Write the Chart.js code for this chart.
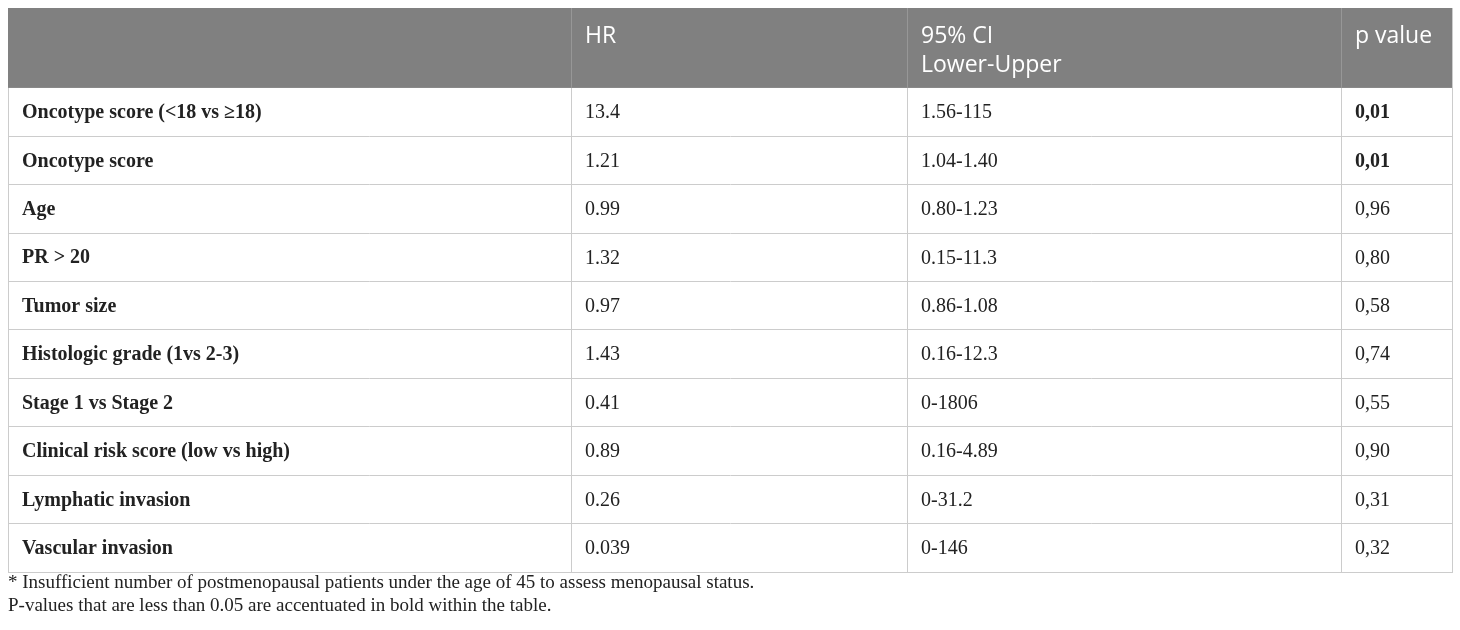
<!DOCTYPE html>
<html>
<head>
<meta charset="utf-8">
<title>Hazard ratios</title>
<script src="https://cdn.jsdelivr.net/npm/chart.js@4.4.1/dist/chart.umd.min.js"></script>
<style>
  html, body { margin: 0; padding: 0; background: #fff; }
  #wrap { width: 1460px; height: 630px; position: relative; }
</style>
</head>
<body>
<div id="wrap"><canvas id="tableChart"></canvas></div>
<script>
// --- Table content ---
const headerLabels = ["", "HR", ["95% CI", "Lower-Upper"], "p value"];
const variables = [
    "Oncotype score (<18 vs \u226518)",
    "Oncotype score",
    "Age",
    "PR > 20",
    "Tumor size",
    "Histologic grade (1vs 2-3)",
    "Stage 1 vs Stage 2",
    "Clinical risk score (low vs high)",
    "Lymphatic invasion",
    "Vascular invasion",
];
const hrValues = ["13.4", "1.21", "0.99", "1.32", "0.97", "1.43", "0.41", "0.89", "0.26", "0.039"];
const ciRanges = ["1.56-115", "1.04-1.40", "0.80-1.23", "0.15-11.3", "0.86-1.08", "0.16-12.3", "0-1806", "0.16-4.89", "0-31.2", "0-146"];
const pValues = ["0,01", "0,01", "0,96", "0,80", "0,58", "0,74", "0,55", "0,90", "0,31", "0,32"];
const footnotes = [
    "* Insufficient number of postmenopausal patients under the age of 45 to assess menopausal status.",
    "P-values that are less than 0.05 are accentuated in bold within the table.",
];

// --- Layout (column edges in table units, header height in row units) ---
const COL_EDGES = [0, 563, 899, 1333, 1444];
const HEADER_H = 1.65;
const ROW_EDGES = [-HEADER_H].concat(variables.map((v, i) => i), [variables.length]);

const SERIF = "'Liberation Serif', 'DejaVu Serif', serif";
const SANS = "'Open Sans', 'Noto Sans', sans-serif";
const CELL_PAD = 14;

function isSignificant(p) {
    return parseFloat(p.replace(",", ".")) < 0.05;
}

// draws header band and every cell text at positions given by the scales
const tablePlugin = {
    id: "tableCells",
    beforeDatasetsDraw(chart) {
        const { ctx, scales } = chart;
        const x = scales.x, y = scales.y;
        const top = y.getPixelForValue(-HEADER_H);
        const bottom = y.getPixelForValue(0);
        ctx.save();
        ctx.fillStyle = "#808080";
        ctx.fillRect(x.left, top, x.right - x.left, bottom - top);
        // separators inside the header
        ctx.strokeStyle = "#979797";
        ctx.lineWidth = 1;
        COL_EDGES.slice(1, -1).forEach((e) => {
            const px = Math.round(x.getPixelForValue(e)) + 0.5;
            ctx.beginPath();
            ctx.moveTo(px, top);
            ctx.lineTo(px, bottom);
            ctx.stroke();
        });
        ctx.restore();
    },
    afterDatasetsDraw(chart) {
        const { ctx, scales } = chart;
        const x = scales.x, y = scales.y;
        ctx.save();
        ctx.textAlign = "left";

        // header
        const headTop = y.getPixelForValue(-HEADER_H);
        ctx.textBaseline = "alphabetic";
        ctx.fillStyle = "#ffffff";
        ctx.font = "23px " + SANS;
        headerLabels.forEach((lab, c) => {
            const lines = Array.isArray(lab) ? lab : [lab];
            const px = x.getPixelForValue(COL_EDGES[c]) + CELL_PAD;
            lines.forEach((ln, k) => {
                ctx.fillText(ln, px, headTop + 35 + k * 29);
            });
        });

        // body
        const columns = [variables, hrValues, ciRanges, pValues];
        ctx.textBaseline = "middle";
        ctx.fillStyle = "#222222";
        variables.forEach((v, r) => {
            const py = y.getPixelForValue(r + 0.5) + 1;
            columns.forEach((col, c) => {
                const bold = c === 0 || (c === 3 && isSignificant(pValues[r]));
                ctx.font = (bold ? "bold " : "") + "20px " + SERIF;
                const px = x.getPixelForValue(COL_EDGES[c]) + CELL_PAD;
                ctx.fillText(col[r], px, py);
            });
        });
        ctx.restore();
    },
};

const gridStyle = {
    color: "#cccccc",
    lineWidth: 1,
    drawTicks: false,
};

new Chart(document.getElementById("tableChart"), {
    type: "scatter",
    data: { datasets: [] },
    options: {
        responsive: true,
        maintainAspectRatio: false,
        animation: false,
        events: [],
        layout: { padding: { left: 8, right: 8, top: 8, bottom: 12 } },
        plugins: {
            legend: { display: false },
            tooltip: { enabled: false },
            title: {
                display: true,
                position: "bottom",
                align: "start",
                text: footnotes,
                color: "#222222",
                font: { family: SERIF, size: 19, weight: "normal", lineHeight: "23px" },
                padding: { top: 0, bottom: 0 },
            },
        },
        scales: {
            x: {
                type: "linear",
                min: COL_EDGES[0],
                max: COL_EDGES[COL_EDGES.length - 1],
                afterBuildTicks: (scale) => {
                    scale.ticks = COL_EDGES.map((v) => ({ value: v }));
                },
                ticks: { display: false },
                grid: gridStyle,
                border: { display: true, color: "#cccccc" },
            },
            y: {
                type: "linear",
                reverse: true,
                min: ROW_EDGES[0],
                max: ROW_EDGES[ROW_EDGES.length - 1],
                afterBuildTicks: (scale) => {
                    scale.ticks = ROW_EDGES.map((v) => ({ value: v }));
                },
                ticks: { display: false },
                grid: gridStyle,
                border: { display: true, color: "#cccccc" },
            },
        },
    },
    plugins: [tablePlugin],
});
</script>
</body>
</html>
